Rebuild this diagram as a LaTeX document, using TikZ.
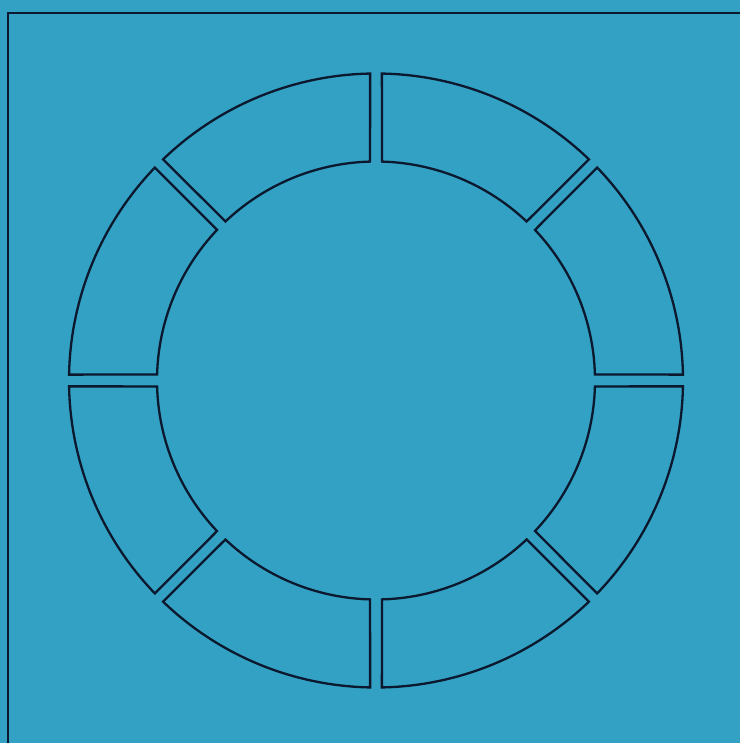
\documentclass[tikz,border=0pt]{standalone}
\definecolor{bg}{RGB}{50,161,195}
\definecolor{ink}{RGB}{12,24,45}
\begin{document}
\begin{tikzpicture}[x=1pt,y=1pt,
  seg/.style={draw=ink,line width=2.3pt,line join=miter},
  frameline/.style={draw=ink,line width=2.3pt}]
\fill[bg] (0,0) rectangle (740,743);
\useasboundingbox (0,0) rectangle (740,743);
\draw[frameline] (8,0) -- (8,730) -- (740,730);
\foreach \a in {0,45,...,315}{
  \draw[seg,shift={(376,362.5)}]
    (\a+1.1:307) arc[start angle=\a+1.1, end angle=\a+45-1.1, radius=307]
    -- (\a+45-1.55:219) arc[start angle=\a+45-1.55, end angle=\a+1.55, radius=219]
    -- cycle;
}
\end{tikzpicture}
\end{document}
